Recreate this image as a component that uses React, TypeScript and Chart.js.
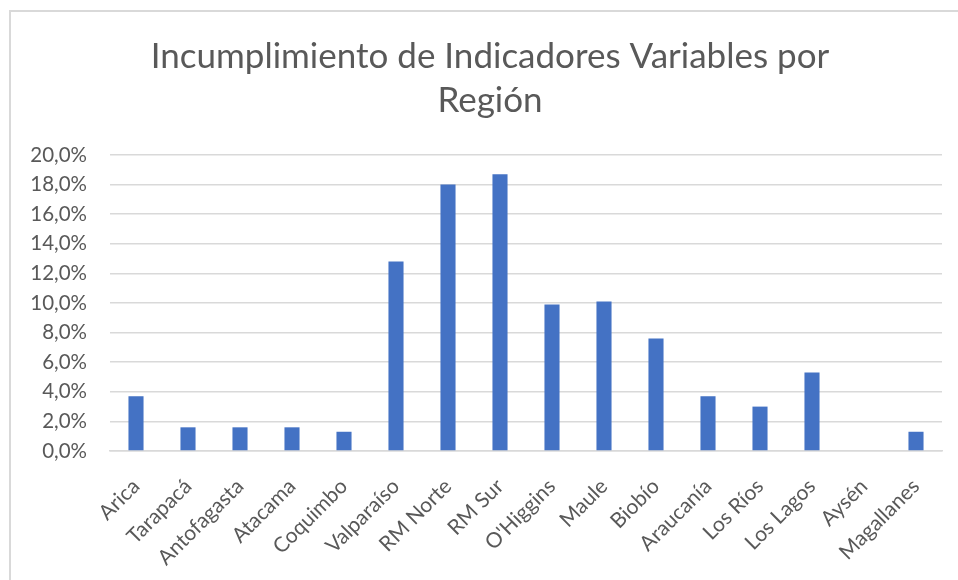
import React, { useEffect, useRef } from "react";
import { Chart, registerables } from "chart.js";

Chart.register(...registerables);

const categories = [
  "Arica", "Tarapacá", "Antofagasta", "Atacama", "Coquimbo", "Valparaíso",
  "RM Norte", "RM Sur", "O'Higgins", "Maule", "Biobío", "Araucanía",
  "Los Ríos", "Los Lagos", "Aysén", "Magallanes",
];
const values = [3.7, 1.6, 1.6, 1.6, 1.3, 12.8, 18.0, 18.7, 9.9, 10.1, 7.6, 3.7, 3.0, 5.3, 0, 1.3];
const titleLines = ["Incumplimiento de Indicadores Variables por", "Región"];
const yMin = 0;
const yMax = 20;
const yStep = 2;

const FONT = "Lato, 'Open Sans', sans-serif";
const TEXT = "#595959";

const titlePlugin = {
  id: "offsetTitle",
  afterDraw(chart: any) {
    const ctx = chart.ctx;
    ctx.save();
    ctx.fillStyle = TEXT;
    ctx.font = `normal 35px ${FONT}`;
    ctx.textAlign = "center";
    ctx.textBaseline = "middle";
    const cx = 490;
    titleLines.forEach((line, i) => {
      ctx.fillText(line, cx, 57 + i * 44);
    });
    ctx.restore();
  },
};

export default function App() {
  const ref = useRef<HTMLCanvasElement | null>(null);

  useEffect(() => {
    document.body.style.margin = "0";
    const canvas = ref.current;
    if (!canvas) return;
    const chart = new Chart(canvas, {
      type: "bar",
      data: {
        labels: categories,
        datasets: [
          {
            data: values,
            backgroundColor: "#4472C4",
            categoryPercentage: 1,
            barPercentage: 0.29,
          },
        ],
      },
      plugins: [titlePlugin],
      options: {
        animation: false,
        responsive: false,
        layout: { padding: { left: 0, right: 16, top: 155, bottom: 0 } },
        plugins: {
          legend: { display: false },
          tooltip: { enabled: false },
          title: { display: false },
        },
        scales: {
          x: {
            grid: { display: false, drawTicks: false },
            border: { display: true, color: "#d9d9d9", width: 1.5 },
            ticks: {
              color: TEXT,
              font: { family: FONT, size: 21 },
              minRotation: 45,
              maxRotation: 45,
              padding: 23,
              autoSkip: false,
            },
            afterFit: (s: any) => {
              s.height = 580 - 451;
            },
          },
          y: {
            min: yMin,
            max: yMax,
            grid: { color: "#d9d9d9", lineWidth: 1.5, drawTicks: false },
            border: { display: false },
            ticks: {
              stepSize: yStep,
              color: TEXT,
              font: { family: FONT, size: 20.5 },
              padding: 23,
              callback: (v: any) => Number(v).toFixed(1).replace(".", ",") + "%",
            },
            afterFit: (s: any) => {
              s.width = 110;
            },
          },
        },
      },
    });
    return () => chart.destroy();
  }, []);

  return (
    <div style={{ position: "relative", width: 958, height: 580, background: "#fff" }}>
      <canvas ref={ref} width={958} height={580} style={{ display: "block" }} />
      <div
        style={{
          position: "absolute",
          left: 9,
          top: 10,
          right: 0,
          bottom: 0,
          borderLeft: "2px solid #d9d9d9",
          borderTop: "2px solid #d9d9d9",
          pointerEvents: "none",
        }}
      />
    </div>
  );
}
